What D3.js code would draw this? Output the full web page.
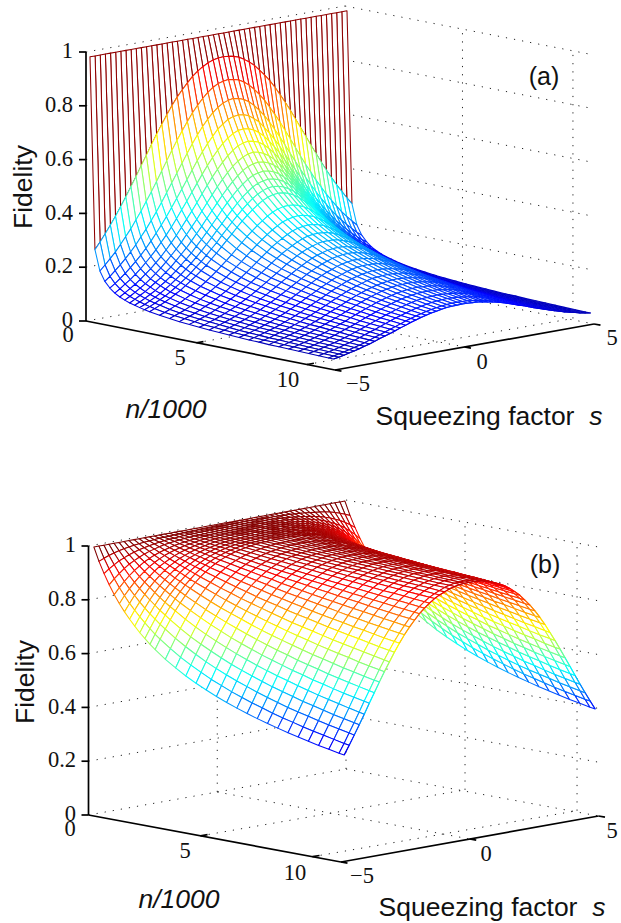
<!DOCTYPE html>
<html><head><meta charset="utf-8">
<script src="https://cdnjs.cloudflare.com/ajax/libs/d3/7.8.5/d3.min.js"></script>
<style>html,body{margin:0;padding:0;background:#fff}svg{display:block}</style>
</head><body><svg id="c" width="621" height="923"></svg>
<script>
// Axis tick labels
const zTicks=[0,0.2,0.4,0.6,0.8,1];
const zTickLabels=["0","0.2","0.4","0.6","0.8","1"];
const nTicks=[0,5,10];
const sTicks=[-5,0,5];
// s of each half-table column (the surface is mirrored about s=0)
const sHalf=[-5,-4.8,-4.6,-4.4,-4.2,-4,-3.8,-3.6,-3.4,-3.2,-3,-2.8,-2.6,-2.4,-2.2,-2,-1.8,-1.6,-1.4,-1.2,-1,-0.8,-0.6,-0.4,-0.2,0];
// n/1000 of each mesh row
const nRowsA=[0.18,0.405,0.63,0.855,1.08,1.305,1.53,1.755,1.98,2.205,2.43,2.655,2.88,3.33,3.78,4.23,4.68,5.13,5.58,6.03,6.48,6.93,7.38,7.83,8.28,8.73,9.18,9.63,10.08,10.53,10.98,11.205];
const nRowsB=[0.24,0.468,0.696,0.924,1.152,1.38,1.608,1.836,2.064,2.292,2.52,2.748,2.976,3.432,3.888,4.344,4.8,5.256,5.712,6.168,6.624,7.08,7.536,7.992,8.448,8.904,9.36,9.816,10.272,10.728,11.184,11.412];
// First row fidelity (per mille)
const firstRowA=985, firstRowB=1000;
// Panel (a) fidelity, per mille: one list per s column, rows after the first
const fidelityA=[
[272,196,161,140,125,114,106,99,94,89,85,81,75,70,66,63,60,57,55,53,51,49,48,46,45,44,43,42,41,40,40],
[297,215,176,153,137,126,116,109,103,97,93,89,82,77,73,69,65,63,60,58,56,54,52,51,49,48,47,46,45,44,43],
[324,235,194,168,151,138,128,120,113,107,102,98,90,84,79,75,72,69,66,63,61,59,57,56,54,53,51,50,49,48,47],
[352,256,212,184,165,151,140,131,124,117,112,107,99,92,87,82,78,75,72,69,67,65,63,61,59,58,56,55,53,52,52],
[382,281,232,202,181,166,153,144,135,128,122,117,108,101,95,90,86,82,79,76,73,71,69,67,65,63,61,60,58,57,56],
[414,306,253,221,198,182,168,158,149,141,134,129,119,111,105,99,94,90,86,83,80,77,75,73,71,69,67,65,64,62,61],
[447,332,276,241,217,198,184,172,162,154,147,140,130,121,114,108,103,98,94,90,87,84,82,79,77,75,73,71,69,67,67],
[482,362,302,263,237,217,201,189,178,169,161,154,142,133,125,118,112,107,103,99,95,92,89,86,84,81,79,77,75,73,72],
[516,391,327,287,258,236,220,205,194,184,175,168,155,145,136,129,122,117,112,107,103,100,96,93,91,88,86,83,81,79,78],
[553,424,356,313,282,258,240,225,212,201,191,183,169,158,148,140,133,127,122,117,112,108,105,101,98,95,93,90,88,86,85],
[588,456,385,339,306,281,261,245,231,219,209,199,184,171,161,152,144,138,132,126,122,117,113,109,106,103,100,97,95,92,91],
[624,490,416,367,332,305,283,265,250,238,226,216,200,186,175,165,156,149,142,136,131,126,122,118,114,110,107,104,101,99,97],
[660,526,449,397,360,331,308,288,272,258,246,235,217,202,189,178,169,161,154,147,141,136,131,127,122,119,115,112,109,106,104],
[693,561,482,428,389,358,333,312,294,279,266,254,234,218,204,192,182,173,165,158,152,146,140,135,131,127,123,119,116,112,111],
[725,596,515,459,418,385,358,336,317,301,286,274,252,234,219,207,195,186,177,169,162,155,150,144,139,135,130,126,123,119,117],
[756,630,549,491,448,413,385,362,341,324,309,295,271,252,235,221,209,198,189,180,172,165,159,153,148,143,138,134,130,126,124],
[784,662,582,523,478,442,412,387,365,346,330,315,290,269,251,236,222,211,200,191,183,175,168,162,156,150,145,140,136,132,130],
[808,693,614,555,508,470,439,412,390,369,352,336,309,286,266,250,236,223,212,202,192,184,177,170,164,158,152,147,142,138,136],
[830,722,644,584,537,498,465,437,413,391,372,356,326,302,282,264,248,234,222,212,202,193,185,177,171,164,158,153,148,143,141],
[851,747,671,611,563,523,489,460,435,412,392,374,343,317,295,276,260,245,232,221,210,201,192,184,177,170,164,158,153,148,146],
[867,769,695,635,587,546,511,481,455,431,410,391,358,331,307,287,270,255,241,228,217,208,198,190,183,175,169,163,157,152,149],
[880,788,716,659,609,567,531,500,472,447,426,406,372,343,318,297,279,263,248,236,224,213,204,195,187,180,173,167,161,155,153],
[891,803,733,674,626,584,547,516,487,462,439,419,383,354,328,306,286,269,255,241,229,218,209,199,191,183,176,170,164,158,156],
[898,814,745,688,639,597,559,527,498,472,449,428,391,360,334,312,292,274,259,245,233,221,211,202,194,186,179,172,166,160,157],
[902,819,752,695,647,604,567,534,504,478,455,434,396,365,338,315,295,277,262,248,235,224,213,204,195,187,180,173,167,161,158],
[903,822,755,698,649,607,570,537,507,481,457,436,398,367,340,316,296,278,263,248,236,224,214,205,196,188,181,174,168,162,159]
];
// Panel (b) fidelity, per mille: one list per s column, rows after the first
const fidelityB=[
[950,908,870,837,807,780,756,734,713,695,677,661,632,607,584,564,546,529,514,500,487,475,464,454,444,435,426,418,411,403,400],
[958,922,889,859,833,808,786,765,746,728,711,696,668,643,621,601,582,566,550,536,523,511,499,488,479,469,460,452,444,436,433],
[965,934,905,879,855,834,813,794,776,760,744,730,703,679,657,637,619,602,587,573,559,547,535,524,514,505,496,487,479,471,467],
[971,945,920,897,876,856,838,821,805,789,775,761,736,712,692,673,655,638,623,609,596,583,572,561,550,541,531,522,514,506,502],
[976,953,933,913,894,877,861,845,830,816,803,791,767,745,725,707,690,674,659,645,632,620,609,598,587,577,568,559,550,542,538],
[980,961,943,926,910,895,881,867,854,841,829,817,796,776,757,740,723,708,694,680,668,656,644,634,623,614,604,595,587,579,575],
[983,967,952,938,924,911,898,886,874,863,852,841,822,803,786,770,755,741,727,714,702,691,679,669,659,649,640,631,623,615,611],
[986,973,960,948,936,925,914,903,892,883,873,864,846,829,813,799,785,771,758,746,735,724,713,703,694,684,675,667,658,650,647],
[988,977,967,956,946,936,927,918,909,900,891,883,868,853,838,825,812,800,788,777,766,756,746,736,727,718,710,701,693,686,682],
[990,981,972,963,955,946,938,930,923,915,908,900,887,873,861,848,837,826,815,804,794,785,776,767,758,750,742,734,727,719,715],
[992,984,977,969,962,955,948,941,934,928,922,915,904,892,881,870,859,849,840,830,821,813,804,796,788,780,773,765,758,751,748],
[993,987,981,974,968,962,956,951,945,939,934,928,918,908,898,889,879,870,862,853,845,837,829,822,815,807,801,794,787,781,778],
[995,989,984,979,973,968,963,958,954,949,944,939,931,922,913,905,897,889,881,874,867,860,853,846,839,833,826,820,814,808,806],
[995,991,987,982,978,973,969,965,961,957,953,949,942,934,927,919,913,905,899,892,885,879,873,867,861,856,850,844,839,833,831],
[996,992,989,985,981,978,974,971,967,964,960,957,951,944,938,932,925,919,914,908,902,897,891,886,881,875,870,865,860,856,853],
[997,994,991,987,984,981,978,975,973,970,967,964,958,953,947,942,936,932,926,921,917,912,907,902,898,893,889,884,880,876,874],
[997,995,992,989,987,984,982,979,977,975,972,970,965,960,955,951,946,941,937,933,928,924,920,916,912,908,904,901,897,893,891],
[998,996,993,991,989,987,985,983,981,979,976,974,970,966,962,959,955,951,947,943,940,936,933,929,925,921,918,915,911,908,906],
[998,996,994,993,991,989,987,985,983,982,980,978,975,971,968,965,961,958,955,952,948,945,942,939,936,933,930,927,924,921,920],
[998,997,995,994,992,991,989,987,986,984,983,981,978,975,973,970,967,964,961,958,955,953,950,947,945,942,939,937,934,931,930],
[999,997,996,995,993,992,990,989,988,986,985,984,981,978,976,973,971,968,966,963,961,958,956,953,951,948,946,944,942,939,938],
[999,998,996,995,994,993,992,990,989,988,987,986,983,981,979,977,974,972,970,968,965,963,961,959,957,955,953,951,949,947,946],
[999,998,997,996,995,994,993,991,990,989,988,987,985,983,981,979,977,975,973,971,969,967,965,963,961,959,957,955,953,952,951],
[999,998,997,996,995,994,993,992,991,990,989,988,986,984,983,981,979,977,975,973,972,970,968,966,965,963,961,959,958,956,955],
[999,998,997,996,995,994,993,992,992,991,990,989,987,985,983,982,980,978,976,974,972,971,969,967,965,963,962,960,959,957,956],
[999,998,997,996,995,994,994,993,992,991,990,989,987,986,984,982,980,978,977,975,973,972,970,968,966,965,963,961,960,958,957]
];

const svg=d3.select("#c");
const sans="'Liberation Sans',Arial,sans-serif", serif="'Liberation Serif','Times New Roman',serif";
const jet=d3.scaleLinear().domain([0,.125,.375,.625,.875,1])
  .range(["rgb(0,0,143)","rgb(0,0,255)","rgb(0,255,255)","rgb(255,255,0)","rgb(255,0,0)","rgb(128,0,0)"]).clamp(true);

const panels=[
 {name:"(a)",nRows:nRowsA,table:fidelityA,first:firstRowA,clim:[0,1],ox:86,oy:321,nDx:249,nDy:49,sUnit:25.9,meshUnit:25.7,sDy:-4.6,zH:269,nMax:11.27,
  zLabelX:73,labels:{n:[[68,337],[180,360],[288,382]],s:[[358,386],[482,364],[612,340]]},
  tag:[544,78],fid:[31,187],nl:[166,418],sq:[489,425],fFont:26.5},
 {name:"(b)",nRows:nRowsB,table:fidelityB,first:firstRowB,clim:[0.33,1],ox:88.5,oy:815,nDx:252.5,nDy:47,sUnit:25.75,meshUnit:25.1,sDy:-4.6,zH:269,nMax:11.27,
  zLabelX:76,labels:{n:[[70,831],[185,853],[295,875]],s:[[362,878],[486,856],[612,833]]},
  tag:[545,566],fid:[33,682],nl:[179,908],sq:[492,916],fFont:26.5}
];

panels.forEach(p=>{
  const g=svg.append("g");
  const nx=d3.scaleLinear().domain([0,p.nMax]).range([0,p.nDx]);
  const ny=d3.scaleLinear().domain([0,p.nMax]).range([0,p.nDy]);
  const sx=d3.scaleLinear().domain([-5,5]).range([0,10*p.sUnit]);
  const mx=d3.scaleLinear().domain([-5,5]).range([0,10*p.meshUnit]);
  const sy=d3.scaleLinear().domain([-5,5]).range([0,10*p.sDy]);
  const zy=d3.scaleLinear().domain([0,1]).range([0,-p.zH]);
  const box=(n,s,z)=>[p.ox+nx(n)+sx(s),p.oy+ny(n)+sy(s)+zy(z)];
  const mesh=(n,s,z)=>[p.ox+nx(n)+mx(s),p.oy+ny(n)+sy(s)+zy(z)];
  const color=z=>jet((z-p.clim[0])/(p.clim[1]-p.clim[0]));
  const line=(a,b,cls)=>g.append("line").attr("x1",a[0]).attr("y1",a[1]).attr("x2",b[0]).attr("y2",b[1]).attr("class",cls);
  const backShift=7, nM=p.nMax;
  const grid=[];
  // z grid lines on the two back planes
  zTicks.forEach(z=>{grid.push([box(0,-5,z),box(0,5,z)]);grid.push([box(0,5,z),box(nM,5,z)]);});
  // verticals on back planes
  grid.push([box(0,0,0),box(0,0,1)]);
  grid.push([box(0,5,0),box(0,5,1)]);
  [5,10].forEach(n=>{const a=box(n,5,0),b=box(n,5,1);grid.push([[a[0]+backShift,a[1]],[b[0]+backShift,b[1]]]);});
  // floor
  grid.push([box(0,0,0),box(nM,0,0)]);
  [5,10].forEach(n=>{const a=box(n,-5,0),b=box(n,5,0);grid.push([a,[b[0]+backShift,b[1]]]);});
  grid.forEach(l=>line(l[0],l[1],"").attr("stroke","#222").attr("stroke-width",1).attr("stroke-dasharray","1.2 7"));

  // mirrored columns s=-5..5
  const sAll=sHalf.concat(sHalf.slice(0,-1).reverse().map(d=>-d));
  const colIdx=j=>j<=25?j:50-j;
  const Z=(k,j)=>(k===0?p.first:p.table[colIdx(j)][k-1])/1000;
  const surf=g.append("g");
  for(let k=0;k<p.nRows.length-1;k++){
    for(let j=sAll.length-2;j>=0;j--){
      const pts=[mesh(p.nRows[k],sAll[j],Z(k,j)),mesh(p.nRows[k],sAll[j+1],Z(k,j+1)),
                 mesh(p.nRows[k+1],sAll[j+1],Z(k+1,j+1)),mesh(p.nRows[k+1],sAll[j],Z(k+1,j))];
      surf.append("polygon").attr("points",pts.map(q=>q[0].toFixed(2)+","+q[1].toFixed(2)).join(" "))
        .attr("fill","#fff").attr("stroke",color(Z(k,j))).attr("stroke-width",1.05).attr("stroke-linejoin","round");
    }
  }
  // last row edge
  for(let j=0;j<sAll.length-1;j++){
    const k=p.nRows.length-1;
    line(mesh(p.nRows[k],sAll[j],Z(k,j)),mesh(p.nRows[k],sAll[j+1],Z(k,j+1)),"").attr("stroke",color(Z(k,j))).attr("stroke-width",1.05);
  }

  // axes
  const ax=(a,b)=>line(a,b,"").attr("stroke","#000").attr("stroke-width",1.7);
  ax(box(0,-5,0),box(0,-5,1));
  ax(box(0,-5,0),box(nM,-5,0));
  ax(box(nM,-5,0),box(nM,5,0));
  zTicks.forEach(z=>{const a=box(0,-5,z);ax([a[0]-7,a[1]],a);});
  nTicks.slice(1).forEach(n=>{const a=box(n,-5,0);ax(a,[a[0]+7,a[1]-1.2]);});
  sTicks.forEach(s=>{const a=box(nM,s,0);ax(a,[a[0]+6.5,a[1]+1.2]);});

  const T=(x,y,t,font,size,anchor,extra)=>{const e=g.append("text").attr("x",x).attr("y",y).attr("font-family",font).attr("font-size",size).attr("text-anchor",anchor||"middle").attr("dominant-baseline","middle").attr("fill","#111").text(t);if(extra)extra(e);return e;};
  zTicks.forEach((z,i)=>{const a=box(0,-5,z);T(p.zLabelX,a[1]+1,zTickLabels[i],serif,22.5,"end");});
  nTicks.forEach((n,i)=>T(p.labels.n[i][0],p.labels.n[i][1],String(n),serif,22.5));
  sTicks.forEach((s,i)=>T(p.labels.s[i][0],p.labels.s[i][1],s<0?"\u2212"+(-s):String(s),serif,22.5));
  T(p.tag[0],p.tag[1],p.name,sans,25);
  T(p.fid[0]-6,p.fid[1],"Fidelity",sans,p.fFont,"middle",e=>e.attr("transform",`rotate(-90 ${p.fid[0]-6} ${p.fid[1]})`));
  g.append("text").attr("x",p.nl[0]).attr("y",p.nl[1]).attr("font-family",sans).attr("font-size",p.fFont).attr("font-style","italic").attr("text-anchor","middle").attr("fill","#111").text("n/1000");
  const sq=g.append("text").attr("x",p.sq[0]).attr("y",p.sq[1]).attr("font-family",sans).attr("font-size",p.fFont).attr("text-anchor","middle").attr("fill","#111").style("white-space","pre");
  sq.append("tspan").text("Squeezing factor  ");
  sq.append("tspan").attr("font-style","italic").text("s");
});
</script></body></html>
